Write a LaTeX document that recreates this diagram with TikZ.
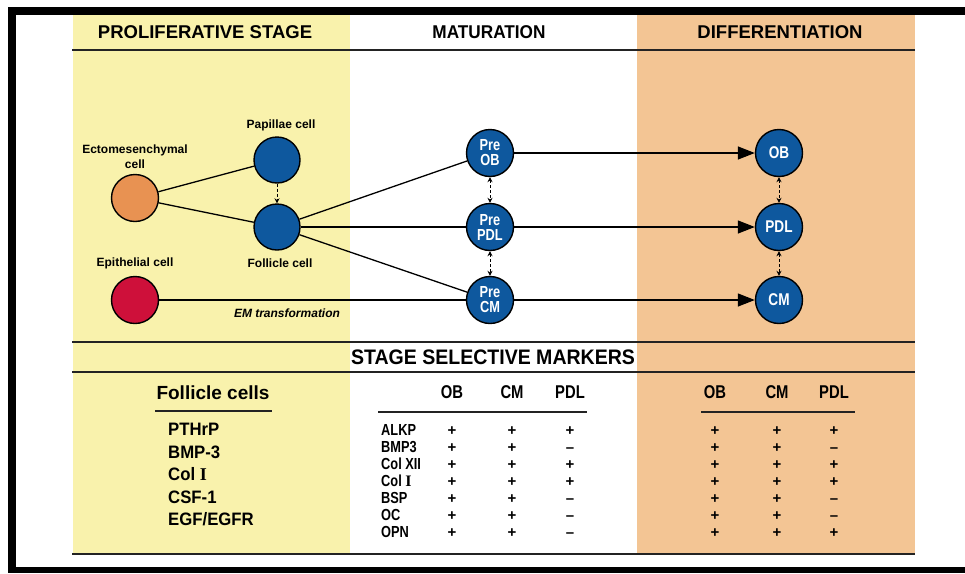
\documentclass[tikz,border=0pt]{standalone}
\usepackage{fontspec}
\setmainfont{Liberation Sans}
\newfontfamily\serifI{Liberation Serif}
\newfontfamily\condf[FakeStretch=0.8]{Liberation Sans}
\newfontfamily\condg[FakeStretch=0.93]{Liberation Sans}
\usetikzlibrary{arrows.meta}
\definecolor{yel}{RGB}{249,242,172}
\definecolor{ora}{RGB}{243,197,148}
\definecolor{cellblue}{RGB}{14,88,158}
\definecolor{ectoor}{RGB}{232,146,82}
\definecolor{epired}{RGB}{206,16,58}
\definecolor{rulecol}{RGB}{35,35,35}
\newcommand{\RomI}{{\serifI\bfseries I}}
\begin{document}
\begin{tikzpicture}[x=1pt,y=-1pt,
  cell/.style={circle,draw=black,line width=1.4pt,fill=cellblue,minimum size=47pt,inner sep=0pt,
    text=white,align=center,font=\condf\bfseries\fontsize{16}{15}\selectfont},
  hdr/.style={inner sep=0pt,font=\bfseries\fontsize{18.5}{20}\selectfont},
  lbl/.style={inner sep=0pt,align=center,font=\bfseries\fontsize{12}{15}\selectfont},
  conn/.style={line width=1.3pt,draw=black},
  bigarrow/.style={line width=1.3pt,-{Triangle[length=17pt,width=13pt]}},
  dashconn/.style={line width=1pt,densely dashed,{Stealth[length=5pt,width=5pt]}-{Stealth[length=5pt,width=5pt]}},
  dashone/.style={line width=1pt,densely dashed,-{Stealth[length=5pt,width=5pt]}},
  hrule/.style={line width=1.8pt,draw=rulecol},
  fchead/.style={inner sep=0pt,font=\bfseries\fontsize{19}{20}\selectfont},
  fcitem/.style={inner sep=0pt,anchor=base west,font=\condg\bfseries\fontsize{18}{19}\selectfont},
  colhead/.style={inner sep=0pt,font=\condf\bfseries\fontsize{18.5}{19}\selectfont},
  rowlbl/.style={inner sep=0pt,anchor=base west,font=\condf\bfseries\fontsize{16}{16}\selectfont},
  sign/.style={inner sep=0pt,anchor=base,font=\bfseries\fontsize{15}{15}\selectfont}]
% canvas
\fill[white] (0,0) rectangle (965,573);
\useasboundingbox (0,0) rectangle (965,573);
\fill[yel] (73,15) rectangle (350,554);
\fill[ora] (637,15) rectangle (915,554);
% frame
\fill[black] (8,7) rectangle (965,15);
\fill[black] (8,7) rectangle (16,573);
\fill[black] (8,567) rectangle (965,573);
% rules
\draw[hrule] (72,50) -- (915,50);
\draw[hrule] (72,342) -- (915,342);
\draw[hrule] (72,372) -- (915,372);
\draw[hrule] (72,554) -- (915,554);
% headers
\node[hdr] (h1) at (205,32) {PROLIFERATIVE STAGE};
\node[hdr] (h2) at (489,32) {\scalebox{0.93}[1]{MATURATION}};
\node[hdr] (h3) at (780,32) {DIFFERENTIATION};
% cells
\node[cell,fill=ectoor] (ecto) at (135,198) {};
\node[cell,minimum size=46pt] (pap) at (277,160) {};
\node[cell,minimum size=46pt] (fol) at (277,227) {};
\node[cell,fill=epired] (epi) at (135,300) {};
\node[cell] (pob) at (490,153) {Pre\\OB};
\node[cell] (ppdl) at (490,227) {Pre\\PDL};
\node[cell] (pcm) at (490,300) {Pre\\CM};
\node[cell,font=\condf\bfseries\fontsize{17}{15}\selectfont] (ob) at (779,153) {OB};
\node[cell,font=\condf\bfseries\fontsize{17}{15}\selectfont] (pdl) at (779,227) {PDL};
\node[cell,font=\condf\bfseries\fontsize{17}{15}\selectfont] (cm) at (779,300) {CM};
% labels
\node[lbl] (ectolbl) at (135,157) {Ectomesenchymal\\cell};
\node[lbl] (paplbl) at (281,125) {Papillae cell};
\node[lbl] (follbl) at (280,263) {Follicle cell};
\node[lbl] (epilbl) at (135,263) {Epithelial cell};
\node[lbl,font=\bfseries\itshape\fontsize{12}{14}\selectfont] (emlbl) at (287,313) {EM transformation};
% connectors
\draw[conn] (ecto) -- (pap);
\draw[conn] (ecto) -- (fol);
\draw[dashone] (pap) -- (fol);
\draw[conn] (fol) -- (pob);
\draw[conn] (fol) -- (ppdl);
\draw[conn] (fol) -- (pcm);
\draw[conn] (epi) -- (pcm);
\draw[bigarrow] (pob) -- (ob);
\draw[bigarrow] (ppdl) -- (pdl);
\draw[bigarrow] (pcm) -- (cm);
\draw[dashconn] (pob) -- (ppdl);
\draw[dashconn] (ppdl) -- (pcm);
\draw[dashconn] (ob) -- (pdl);
\draw[dashconn] (pdl) -- (cm);
% stage selective markers
\node[hdr,font=\condg\bfseries\fontsize{21}{22}\selectfont] (ssm) at (493,357) {STAGE SELECTIVE MARKERS};
% follicle cells
\node[fchead] (fc) at (213,393) {Follicle cells};
\draw[hrule] (155,411) -- (272,411);
\node[fcitem] (f1) at (168,435.5) {PTHrP};
\node[fcitem] (f2) at (168,458) {BMP-3};
\node[fcitem] (f3) at (168,480.5) {Col \RomI};
\node[fcitem] (f4) at (168,503) {CSF-1};
\node[fcitem] (f5) at (168,525.5) {EGF/EGFR};
% maturation table
\node[colhead] (mob) at (452,392) {OB};
\node[colhead] (mcm) at (512,392) {CM};
\node[colhead] (mpdl) at (570,392) {PDL};
\draw[hrule] (378,412) -- (587,412);
% differentiation table
\node[colhead] (dob) at (715,392) {OB};
\node[colhead] (dcm) at (777,392) {CM};
\node[colhead] (dpdl) at (834,392) {PDL};
\draw[hrule] (701,412) -- (855,412);
\foreach \nm/\a/\b/\c/\d [count=\i from 0] in
  {ALKP/+/+/+/+, BMP3/+/+/--/--, Col XII/+/+/+/+, Col \RomI/+/+/+/+,
   BSP/+/+/--/--, OC/+/+/--/--, OPN/+/+/--/+}{
  \pgfmathsetmacro\yy{435+17*\i}
  \node[rowlbl] (r\i) at (381,\yy) {\nm};
  \node[sign] (ma\i) at (452,\yy) {\a};
  \node[sign] (mb\i) at (512,\yy) {\b};
  \node[sign] (mc\i) at (570,\yy) {\c};
  \node[sign] (da\i) at (715,\yy) {\a};
  \node[sign] (db\i) at (777,\yy) {\b};
  \node[sign] (dc\i) at (834,\yy) {\d};
}
\end{tikzpicture}
\end{document}
